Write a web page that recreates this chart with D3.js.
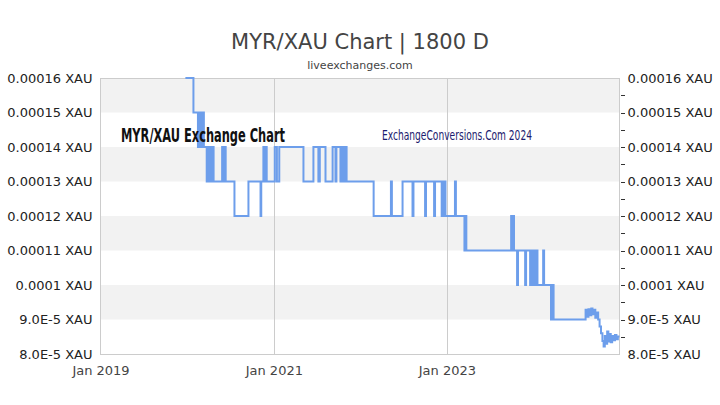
<!DOCTYPE html>
<html>
<head>
<meta charset="utf-8">
<script src="https://cdn.jsdelivr.net/npm/d3@7"></script>
<style>
  html, body { margin: 0; padding: 0; background: #fff; }
  svg { display: block; }
</style>
</head>
<body>
<svg id="chart" width="720" height="405"></svg>
<script>
// ---- data ----
const titleText = "MYR/XAU Chart | 1800 D";
const subtitleText = "liveexchanges.com";
const yTicks = [0.00016, 0.00015, 0.00014, 0.00013, 0.00012, 0.00011, 0.0001, 0.00009, 0.00008];
const yTickLabels = ["0.00016 XAU", "0.00015 XAU", "0.00014 XAU", "0.00013 XAU", "0.00012 XAU", "0.00011 XAU", "0.0001 XAU", "9.0E-5 XAU", "8.0E-5 XAU"];
const xTicks = ["2019-01-01", "2021-01-01", "2023-01-01"];
const xTickLabels = ["Jan 2019", "Jan 2021", "Jan 2023"];
const xDomain = ["2019-01-01", "2024-12-29"];

const dates = [
  "2019-12-25","2020-01-28","2020-02-16","2020-02-20","2020-02-24","2020-02-27","2020-03-02","2020-03-06","2020-03-12",
  "2020-03-24","2020-03-28","2020-04-02","2020-04-06","2020-04-12","2020-04-16","2020-04-22",
  "2020-05-28","2020-06-01","2020-06-08","2020-06-12","2020-07-19","2020-09-16",
  "2020-11-06","2020-11-09","2020-11-18","2020-11-22","2020-11-28","2020-12-02",
  "2021-01-05","2021-01-14","2021-01-24","2021-05-06","2021-06-17","2021-07-08","2021-07-14","2021-08-07",
  "2021-09-06","2021-09-18","2021-09-22","2021-10-09","2021-10-12","2021-10-18","2021-10-21","2021-10-27","2021-10-30","2021-11-04",
  "2022-02-26","2022-05-10","2022-05-14","2022-06-28","2022-08-09","2022-08-13","2022-10-01","2022-10-05",
  "2022-11-08","2022-11-12","2022-12-10","2022-12-14","2022-12-18","2022-12-22","2022-12-26",
  "2023-02-04","2023-02-08","2023-03-16","2023-03-20","2023-03-24",
  "2023-09-29","2023-10-03","2023-10-07","2023-10-11","2023-10-24","2023-10-28","2023-11-27","2023-12-01",
  "2023-12-18","2023-12-22","2023-12-26","2023-12-30","2024-01-03","2024-01-07","2024-01-11","2024-01-15","2024-01-18",
  "2024-02-11","2024-02-15","2024-03-15","2024-03-19","2024-03-26",
  "2024-08-08","2024-08-14","2024-08-20","2024-08-26","2024-09-01","2024-09-06","2024-09-12","2024-09-18","2024-09-24","2024-09-30",
  "2024-10-06","2024-10-12","2024-10-18","2024-10-23","2024-10-28","2024-11-02","2024-11-07","2024-11-12","2024-11-17","2024-11-22",
  "2024-11-28","2024-12-04","2024-12-10","2024-12-16","2024-12-22","2024-12-29"
];
const values = [
  0.00016,0.00015,0.00014,0.00015,0.00014,0.00015,0.00014,0.00015,0.00014,
  0.00013,0.00014,0.00013,0.00014,0.00013,0.00014,0.00013,
  0.00014,0.00013,0.00014,0.00013,0.00012,0.00013,
  0.00012,0.00013,0.00014,0.00013,0.00014,0.00013,
  0.00014,0.00013,0.00014,0.00013,0.00014,0.00013,0.00014,0.00013,
  0.00014,0.00013,0.00014,0.00013,0.00014,0.00013,0.00014,0.00013,0.00014,0.00013,
  0.00012,0.00013,0.00012,0.00013,0.00012,0.00013,0.00012,0.00013,
  0.00012,0.00013,0.00012,0.00013,0.00012,0.00013,0.00012,
  0.00013,0.00012,0.00011,0.00012,0.00011,
  0.00012,0.00011,0.00012,0.00011,0.00010,0.00011,0.00010,0.00011,
  0.00010,0.00011,0.00010,0.00011,0.00010,0.00011,0.00010,0.00011,0.00010,
  0.00011,0.00010,0.00009,0.00010,0.00009,
  0.0000928,0.0000908,0.0000930,0.0000912,0.0000932,0.0000915,0.0000928,0.0000905,0.0000920,0.0000900,
  0.0000880,0.0000860,0.0000838,0.0000822,0.0000852,0.0000830,0.0000865,0.0000836,0.0000858,0.0000834,
  0.0000852,0.0000840,0.0000855,0.0000843,0.0000851,0.0000848
];

// ---- chart ----
const svg = d3.select("#chart");
const W = 720, H = 405;
const plot = { left: 100.5, right: 619.5, top: 78, bottom: 354 };
const parse = d3.timeParse("%Y-%m-%d");

const x = d3.scaleTime().domain(xDomain.map(parse)).range([plot.left, plot.right]);
const y = d3.scaleLinear().domain([0.00008, 0.00016]).range([plot.bottom, plot.top]);

// title
svg.append("text").attr("x", W / 2).attr("y", 49).attr("text-anchor", "middle")
  .attr("font-family", "DejaVu Sans").attr("font-size", 21).attr("fill", "#444").text(titleText);
svg.append("text").attr("x", W / 2).attr("y", 69).attr("text-anchor", "middle")
  .attr("font-family", "DejaVu Sans").attr("font-size", 11).attr("fill", "#444").text(subtitleText);

// bands
const bands = [];
for (let i = 0; i < yTicks.length - 1; i += 2) bands.push([yTicks[i], yTicks[i + 1]]);
svg.append("g").selectAll("rect").data(bands).join("rect")
  .attr("x", plot.left).attr("width", plot.right - plot.left)
  .attr("y", d => y(d[0])).attr("height", d => y(d[1]) - y(d[0]))
  .attr("fill", "#f2f2f2");

// vertical gridlines
svg.append("g").selectAll("line").data(xTicks.slice(1)).join("line")
  .attr("x1", d => Math.round(x(parse(d))) + 0.5).attr("x2", d => Math.round(x(parse(d))) + 0.5)
  .attr("y1", plot.top).attr("y2", plot.bottom)
  .attr("stroke", "#cccccc").attr("stroke-width", 1);

// border
svg.append("rect").attr("x", plot.left).attr("y", plot.top + 0.5)
  .attr("width", plot.right - plot.left).attr("height", plot.bottom - plot.top)
  .attr("fill", "none").attr("stroke", "#cccccc").attr("stroke-width", 1);

// line
svg.append("clipPath").attr("id", "clip").append("rect")
  .attr("x", plot.left).attr("y", plot.top - 1).attr("width", plot.right - plot.left).attr("height", plot.bottom - plot.top + 2);
const series = dates.map((d, i) => ({ date: parse(d), value: values[i] }));
const line = d3.line().x(d => x(d.date)).y(d => y(d.value)).curve(d3.curveStepAfter);
svg.append("path").datum(series).attr("clip-path", "url(#clip)")
  .attr("d", line).attr("fill", "none").attr("stroke", "#6d9eeb").attr("stroke-width", 2);

// watermark texts (drawn over the line)
svg.append("text").attr("x", 121).attr("y", 142)
  .attr("font-family", "Liberation Sans Narrow, DejaVu Sans Condensed, sans-serif")
  .attr("font-weight", "bold").attr("font-size", 19).attr("fill", "#111")
  .attr("textLength", 164).attr("lengthAdjust", "spacingAndGlyphs")
  .text("MYR/XAU Exchange Chart");
svg.append("text").attr("x", 382).attr("y", 140)
  .attr("font-family", "Liberation Sans Narrow, DejaVu Sans Condensed, sans-serif")
  .attr("font-size", 14).attr("fill", "#1b1b6e")
  .attr("textLength", 150).attr("lengthAdjust", "spacingAndGlyphs")
  .text("ExchangeConversions.Com 2024");

// left axis labels
const yAxisL = d3.axisLeft(y).tickValues(yTicks).tickFormat((d, i) => yTickLabels[i]).tickSize(0).tickPadding(8);
const gL = svg.append("g").attr("transform", `translate(${plot.left},0)`).call(yAxisL);
gL.select(".domain").remove();
gL.selectAll("text").attr("font-family", "DejaVu Sans").attr("font-size", 13).attr("fill", "#222");

// right axis labels with ticks
const minorTicks = d3.range(yTicks.length - 1).map(i => (yTicks[i] + yTicks[i + 1]) / 2);
const rightTicks = yTicks.slice(1, -1).concat(minorTicks);
svg.append("g").selectAll("line").data(rightTicks).join("line")
  .attr("x1", 621).attr("x2", 625)
  .attr("y1", d => Math.round(y(d)) + 0.5).attr("y2", d => Math.round(y(d)) + 0.5)
  .attr("stroke", "#333").attr("stroke-width", 1);
const yAxisR = d3.axisRight(y).tickValues(yTicks).tickFormat((d, i) => yTickLabels[i]).tickSize(0).tickPadding(8);
const gR = svg.append("g").attr("transform", `translate(${plot.right},0)`).call(yAxisR);
gR.select(".domain").remove();
gR.selectAll("text").attr("font-family", "DejaVu Sans").attr("font-size", 13).attr("fill", "#222");

// x axis labels
const xAxis = d3.axisBottom(x).tickValues(xTicks.map(parse)).tickFormat((d, i) => xTickLabels[i]).tickSize(0).tickPadding(12);
const gX = svg.append("g").attr("transform", `translate(0,${plot.bottom})`).call(xAxis);
gX.select(".domain").remove();
gX.selectAll("text").attr("font-family", "DejaVu Sans").attr("font-size", 13).attr("fill", "#444");
</script>
</body>
</html>
